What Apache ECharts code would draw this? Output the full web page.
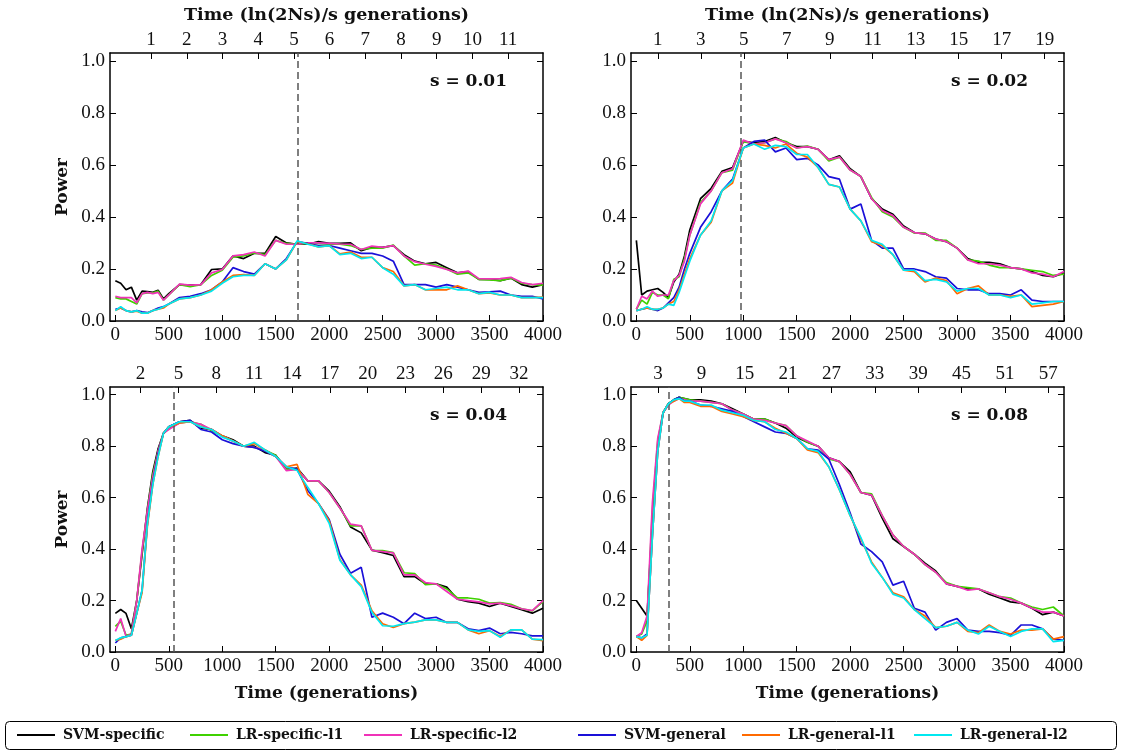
<!DOCTYPE html>
<html>
<head>
<meta charset="utf-8">
<script src="https://cdn.jsdelivr.net/npm/echarts@6/dist/echarts.min.js"></script>
<style>html,body{margin:0;padding:0;background:#fff}#c{width:1122px;height:751px}</style>
</head>
<body>
<div id="c"></div>
<script>
// ---------------- DATA ----------------
const gens = [0,50,100,150,200,250,300,350,400,450,500,600,700,800,900,1000,1100,1200,1300,1400,1500,1600,1700,1800,1900,2000,2100,2200,2300,2400,2500,2600,2700,2800,2900,3000,3100,3200,3300,3400,3500,3600,3700,3800,3900,4000];
const seriesNames = ["SVM-specific","LR-specific-l1","LR-specific-l2","SVM-general","LR-general-l1","LR-general-l2"];
const panelLabels = ["s = 0.01","s = 0.02","s = 0.04","s = 0.08"];
const bottomTicks = [0,500,1000,1500,2000,2500,3000,3500,4000];
const yTicks = [0,0.2,0.4,0.6,0.8,1.0];
// top-axis unit ln(2Ns)/s in generations, and the labelled multiples
const topUnit = [334, 201, 118, 67.6];
const topTickLabels = [
  [1,2,3,4,5,6,7,8,9,10,11],
  [1,3,5,7,9,11,13,15,17,19],
  [2,5,8,11,14,17,20,23,26,29,32],
  [3,9,15,21,27,33,39,45,51,57]
];
const dashedAt = [1710, 980, 545, 300];

// s = 0.01
const p1_svmSpec = [0.155,0.145,0.12,0.13,0.08,0.115,0.113,0.11,0.118,0.085,0.105, 0.14,0.138,0.14,0.198,0.2, 0.25,0.24,0.26,0.26,0.325, 0.3,0.295,0.295,0.305,0.298, 0.298,0.3,0.27,0.283,0.283, 0.29,0.255,0.23,0.22,0.225, 0.205,0.185,0.19,0.16,0.16, 0.155,0.165,0.14,0.13,0.14];
const p1_lrSpecL1 = [0.09,0.085,0.085,0.075,0.065,0.105,0.108,0.108,0.115,0.08,0.1, 0.14,0.132,0.14,0.175,0.195, 0.245,0.25,0.262,0.255,0.31, 0.298,0.295,0.298,0.298,0.295, 0.295,0.29,0.275,0.28,0.28, 0.292,0.25,0.215,0.22,0.215, 0.2,0.18,0.185,0.16,0.158, 0.155,0.165,0.145,0.14,0.138];
const p1_lrSpecL2 = [0.095,0.09,0.09,0.09,0.07,0.105,0.11,0.105,0.11,0.08,0.1, 0.142,0.138,0.14,0.185,0.198, 0.25,0.255,0.265,0.25,0.31, 0.295,0.295,0.3,0.3,0.298, 0.296,0.295,0.275,0.288,0.283, 0.29,0.25,0.228,0.218,0.21, 0.198,0.185,0.192,0.163,0.162, 0.163,0.168,0.148,0.14,0.145];
const p1_svmGen = [0.045,0.05,0.04,0.035,0.04,0.035,0.032,0.04,0.05,0.055,0.065, 0.09,0.095,0.105,0.12,0.15, 0.205,0.19,0.18,0.22,0.2, 0.24,0.305,0.298,0.29,0.29, 0.28,0.27,0.26,0.26,0.25, 0.23,0.14,0.14,0.14,0.13, 0.14,0.13,0.12,0.11,0.112, 0.115,0.1,0.095,0.095,0.085];
const p1_lrGenL1 = [0.04,0.05,0.04,0.035,0.038,0.03,0.03,0.04,0.045,0.05,0.065, 0.085,0.09,0.1,0.12,0.15, 0.175,0.178,0.175,0.22,0.2, 0.235,0.305,0.297,0.285,0.29, 0.258,0.265,0.245,0.245,0.205, 0.19,0.135,0.14,0.12,0.12, 0.12,0.135,0.12,0.105,0.108, 0.1,0.1,0.09,0.09,0.092];
const p1_lrGenL2 = [0.04,0.055,0.04,0.035,0.04,0.03,0.03,0.04,0.045,0.055,0.065, 0.085,0.09,0.1,0.115,0.145, 0.17,0.175,0.175,0.22,0.2, 0.235,0.308,0.295,0.285,0.29, 0.255,0.26,0.24,0.245,0.205, 0.18,0.135,0.14,0.12,0.125, 0.13,0.12,0.12,0.105,0.11, 0.1,0.1,0.09,0.09,0.09];

// s = 0.02
const p2_svmSpec = [0.31,0.1,0.115,0.12,0.125,0.11,0.09,0.15,0.18,0.25,0.35, 0.47,0.51,0.575,0.59,0.69, 0.685,0.69,0.705,0.685,0.67, 0.67,0.66,0.62,0.635,0.585, 0.555,0.47,0.43,0.41,0.365, 0.34,0.335,0.315,0.305,0.28, 0.24,0.225,0.225,0.22,0.205, 0.2,0.19,0.175,0.17,0.185];
const p2_lrSpecL1 = [0.045,0.08,0.065,0.11,0.1,0.1,0.085,0.16,0.17,0.24,0.33, 0.455,0.5,0.57,0.58,0.69, 0.68,0.685,0.7,0.69,0.665, 0.672,0.66,0.615,0.63,0.58, 0.555,0.475,0.42,0.4,0.36, 0.338,0.338,0.31,0.31,0.28, 0.235,0.23,0.215,0.205,0.205, 0.2,0.195,0.19,0.175,0.18];
const p2_lrSpecL2 = [0.045,0.095,0.085,0.115,0.095,0.1,0.1,0.155,0.175,0.23,0.33, 0.45,0.5,0.57,0.585,0.695, 0.68,0.685,0.7,0.685,0.665, 0.67,0.66,0.62,0.63,0.58, 0.555,0.47,0.425,0.405,0.36, 0.34,0.335,0.315,0.305,0.28, 0.235,0.22,0.22,0.215,0.205, 0.2,0.185,0.18,0.17,0.19];
const p2_svmGen = [0.04,0.045,0.05,0.045,0.04,0.05,0.07,0.09,0.13,0.2,0.26, 0.36,0.42,0.5,0.545,0.665, 0.69,0.695,0.65,0.665,0.62, 0.625,0.6,0.555,0.545,0.43, 0.45,0.31,0.28,0.28,0.2, 0.2,0.19,0.17,0.165,0.125, 0.12,0.12,0.105,0.105,0.1, 0.12,0.08,0.075,0.075,0.075];
const p2_lrGenL1 = [0.04,0.045,0.05,0.045,0.045,0.05,0.065,0.075,0.12,0.18,0.24, 0.33,0.38,0.5,0.53,0.665, 0.68,0.675,0.665,0.68,0.645, 0.63,0.59,0.525,0.515,0.43, 0.385,0.305,0.29,0.255,0.195, 0.19,0.15,0.165,0.155,0.105, 0.125,0.135,0.1,0.1,0.095, 0.1,0.055,0.06,0.065,0.075];
const p2_lrGenL2 = [0.04,0.045,0.055,0.045,0.045,0.05,0.065,0.06,0.11,0.17,0.23, 0.33,0.385,0.5,0.54,0.665, 0.68,0.66,0.675,0.67,0.64, 0.64,0.59,0.525,0.515,0.43, 0.385,0.31,0.295,0.255,0.195, 0.195,0.155,0.16,0.15,0.115, 0.125,0.125,0.1,0.1,0.09, 0.1,0.065,0.07,0.075,0.075];

// s = 0.04
const p3_svmSpec = [0.15,0.165,0.15,0.09,0.2,0.38,0.56,0.7,0.79,0.85,0.875, 0.895,0.9,0.87,0.865,0.84, 0.825,0.8,0.8,0.775,0.765, 0.71,0.715,0.665,0.665,0.625, 0.565,0.486,0.463,0.396,0.386, 0.375,0.293,0.293,0.265,0.265, 0.252,0.205,0.196,0.19,0.177, 0.19,0.177,0.164,0.151,0.17];
const p3_lrSpecL1 = [0.1,0.12,0.065,0.07,0.2,0.39,0.55,0.69,0.78,0.85,0.87, 0.89,0.895,0.885,0.86,0.84, 0.82,0.8,0.795,0.785,0.765, 0.71,0.71,0.665,0.665,0.62, 0.56,0.49,0.49,0.395,0.394, 0.386,0.308,0.305,0.262,0.265, 0.245,0.21,0.21,0.205,0.19, 0.192,0.185,0.168,0.16,0.196];
const p3_lrSpecL2 = [0.08,0.13,0.06,0.07,0.2,0.4,0.55,0.68,0.78,0.85,0.865, 0.89,0.895,0.885,0.865,0.84, 0.82,0.8,0.795,0.785,0.76, 0.705,0.71,0.665,0.665,0.62, 0.56,0.497,0.49,0.395,0.39, 0.385,0.3,0.3,0.27,0.265, 0.235,0.205,0.2,0.195,0.187, 0.19,0.18,0.168,0.161,0.2];
const p3_svmGen = [0.035,0.055,0.06,0.065,0.15,0.24,0.5,0.66,0.77,0.85,0.875, 0.895,0.9,0.865,0.855,0.825, 0.81,0.8,0.795,0.78,0.76, 0.72,0.71,0.628,0.577,0.515, 0.38,0.306,0.329,0.135,0.151, 0.135,0.11,0.151,0.13,0.135, 0.115,0.115,0.09,0.083,0.093, 0.071,0.076,0.071,0.063,0.063];
const p3_lrGenL1 = [0.045,0.05,0.06,0.065,0.15,0.23,0.49,0.65,0.76,0.85,0.875, 0.89,0.895,0.875,0.865,0.84, 0.82,0.8,0.81,0.785,0.76, 0.72,0.729,0.613,0.577,0.51, 0.36,0.3,0.26,0.16,0.11, 0.095,0.11,0.116,0.125,0.125, 0.115,0.115,0.086,0.071,0.083, 0.06,0.086,0.086,0.05,0.044];
const p3_lrGenL2 = [0.045,0.055,0.06,0.065,0.15,0.24,0.5,0.65,0.76,0.85,0.875, 0.895,0.895,0.875,0.865,0.835, 0.82,0.8,0.815,0.785,0.76, 0.72,0.706,0.64,0.577,0.5, 0.357,0.3,0.254,0.154,0.102, 0.1,0.11,0.116,0.125,0.125, 0.115,0.115,0.086,0.08,0.083, 0.057,0.086,0.086,0.05,0.048];

// s = 0.08
const p4_svmSpec = [0.2,0.17,0.14,0.5,0.8,0.93,0.965,0.98,0.99,0.985,0.98, 0.98,0.975,0.965,0.945,0.925, 0.905,0.905,0.89,0.87,0.835, 0.815,0.8,0.755,0.74,0.7, 0.62,0.61,0.52,0.44,0.41, 0.38,0.345,0.315,0.265,0.255, 0.245,0.245,0.225,0.21,0.195, 0.19,0.17,0.145,0.155,0.14];
const p4_lrSpecL1 = [0.06,0.07,0.12,0.55,0.82,0.93,0.965,0.98,0.99,0.985,0.98, 0.975,0.97,0.965,0.94,0.925, 0.905,0.905,0.89,0.88,0.84, 0.815,0.8,0.75,0.74,0.69, 0.62,0.615,0.53,0.455,0.41, 0.38,0.34,0.31,0.27,0.255, 0.25,0.245,0.23,0.215,0.21, 0.19,0.175,0.165,0.175,0.14];
const p4_lrSpecL2 = [0.06,0.075,0.14,0.58,0.83,0.93,0.96,0.975,0.985,0.98,0.975, 0.975,0.97,0.965,0.94,0.925, 0.905,0.9,0.89,0.88,0.84, 0.82,0.8,0.755,0.74,0.69, 0.62,0.61,0.53,0.455,0.41, 0.38,0.34,0.31,0.265,0.255, 0.24,0.245,0.23,0.215,0.205, 0.19,0.17,0.155,0.155,0.14];
const p4_svmGen = [0.06,0.055,0.07,0.45,0.78,0.93,0.965,0.98,0.99,0.975,0.975, 0.96,0.955,0.945,0.935,0.915, 0.895,0.875,0.855,0.85,0.83, 0.79,0.785,0.75,0.65,0.54, 0.42,0.39,0.35,0.26,0.275, 0.17,0.155,0.085,0.115,0.13, 0.085,0.08,0.08,0.075,0.065, 0.105,0.105,0.09,0.05,0.045];
const p4_lrGenL1 = [0.06,0.045,0.065,0.45,0.78,0.93,0.965,0.975,0.985,0.97,0.97, 0.955,0.955,0.935,0.925,0.915, 0.9,0.895,0.87,0.85,0.83, 0.785,0.775,0.72,0.63,0.53, 0.44,0.35,0.29,0.23,0.215, 0.165,0.14,0.095,0.1,0.115, 0.08,0.075,0.105,0.08,0.07, 0.085,0.085,0.09,0.05,0.06];
const p4_lrGenL2 = [0.06,0.055,0.065,0.45,0.78,0.93,0.965,0.98,0.985,0.975,0.975, 0.96,0.96,0.94,0.93,0.92, 0.9,0.895,0.865,0.855,0.83, 0.79,0.78,0.72,0.63,0.53, 0.445,0.345,0.29,0.225,0.21, 0.165,0.13,0.095,0.1,0.115, 0.085,0.07,0.1,0.08,0.06, 0.08,0.09,0.09,0.04,0.045];

const panelData = [
  [p1_svmSpec,p1_lrSpecL1,p1_lrSpecL2,p1_svmGen,p1_lrGenL1,p1_lrGenL2],
  [p2_svmSpec,p2_lrSpecL1,p2_lrSpecL2,p2_svmGen,p2_lrGenL1,p2_lrGenL2],
  [p3_svmSpec,p3_lrSpecL1,p3_lrSpecL2,p3_svmGen,p3_lrGenL1,p3_lrGenL2],
  [p4_svmSpec,p4_lrSpecL1,p4_lrSpecL2,p4_svmGen,p4_lrGenL1,p4_lrGenL2]
];

// ---------------- STYLE / LAYOUT ----------------
const colors = ["#000000","#3fd100","#f032b8","#1a10d8","#ff6a00","#00e8f0"];
const NUM = "Liberation Serif";
const BOLD = "DejaVu Serif";
const grids = [
  {left:110, top:53, width:433, height:268},
  {left:631, top:53, width:433, height:268},
  {left:110, top:387, width:433, height:265},
  {left:631, top:387, width:433, height:265}
];

const xAxes = [], yAxes = [], series = [], graphics = [];
grids.forEach((g, p) => {
  const isTop = p < 2, isLeft = p % 2 === 0;
  xAxes.push({
    type:'value', gridIndex:p, position:'bottom', min:-50, max:4000,
    axisLine:{show:true, onZero:false, lineStyle:{color:'#000', width:1.5}},
    axisTick:{show:true, inside:true, length:6, customValues:bottomTicks, lineStyle:{color:'#000', width:1}},
    axisLabel:{show:true, customValues:bottomTicks, color:'#111', fontFamily:NUM, fontSize:19, margin:5,
      formatter:(v)=>String(v)},
    splitLine:{show:false},
    name: isTop ? '' : 'Time (generations)', nameLocation:'middle', nameGap:33,
    nameTextStyle:{fontFamily:BOLD, fontWeight:'bold', fontSize:17, color:'#111'}
  });
  const tv = topTickLabels[p].map(k => k * topUnit[p]);
  xAxes.push({
    type:'value', gridIndex:p, position:'top', min:-50, max:4000,
    axisLine:{show:true, onZero:false, lineStyle:{color:'#000', width:1.5}},
    axisTick:{show:true, inside:true, length:6, customValues:tv, lineStyle:{color:'#000', width:1}},
    axisLabel:{show:true, customValues:tv, color:'#111', fontFamily:NUM, fontSize:19, margin:3,
      formatter:(v)=>String(Math.round(v/topUnit[p]))},
    splitLine:{show:false},
    name: isTop ? 'Time (ln(2Ns)/s generations)' : '', nameLocation:'middle', nameGap:29,
    nameTextStyle:{fontFamily:BOLD, fontWeight:'bold', fontSize:17.5, color:'#111'}
  });
  yAxes.push({
    type:'value', gridIndex:p, position:'left', min:0, max:1.03,
    axisLine:{show:true, onZero:false, lineStyle:{color:'#000', width:1.5}},
    axisTick:{show:true, inside:true, length:6, customValues:yTicks, lineStyle:{color:'#000', width:1}},
    axisLabel:{show:true, customValues:yTicks, color:'#111', fontFamily:NUM, fontSize:19, margin:5,
      formatter:(v)=>v.toFixed(1)},
    splitLine:{show:false},
    name: isLeft ? 'Power' : '', nameLocation:'middle', nameGap:39, nameRotate:90,
    nameTextStyle:{fontFamily:BOLD, fontWeight:'bold', fontSize:17, color:'#111'}
  });
  yAxes.push({
    type:'value', gridIndex:p, position:'right', min:0, max:1.03,
    axisLine:{show:true, onZero:false, lineStyle:{color:'#000', width:1.5}},
    axisTick:{show:true, inside:true, length:6, customValues:yTicks, lineStyle:{color:'#000', width:1}},
    axisLabel:{show:false},
    splitLine:{show:false}
  });
  panelData[p].forEach((arr, si) => {
    const s = {
      type:'line', name:seriesNames[si], xAxisIndex:2*p, yAxisIndex:2*p,
      data: gens.map((x, i) => [x, arr[i]]),
      symbol:'none', showSymbol:false, animation:false, silent:true,
      lineStyle:{color:colors[si], width:1.7}, itemStyle:{color:colors[si]}, z:2+si
    };
    if (si === 0) {
      s.markLine = {
        silent:true, symbol:'none', animation:false,
        label:{show:false},
        lineStyle:{color:'#555', width:1.5, type:[7,4]},
        data:[{xAxis:dashedAt[p]}]
      };
    }
    series.push(s);
  });
  graphics.push({
    type:'text', right: 1122 - (g.left + g.width) + 36, top: g.top + 20,
    style:{text:panelLabels[p], font:'bold 17px "DejaVu Serif"', fill:'#111'}
  });
});

graphics.push({
  type:'rect', shape:{x:5.5, y:721.5, width:1111, height:28, r:4},
  style:{fill:'#fff', stroke:'#000', lineWidth:1}, z:-1
});

const legendLeft = [17, 190, 364, 578, 742, 914];
const legends = seriesNames.map((n, i) => ({
  data:[n], left:legendLeft[i], top:728, itemWidth:38, itemHeight:14, padding:0,
  icon:'path://M0,0L38,0L38,2L0,2Z',
  itemStyle:{color:colors[i]},
  textStyle:{fontFamily:BOLD, fontWeight:'bold', fontSize:14, color:'#111', padding:[0,0,0,3]},
  selectedMode:false
}));

const chart = echarts.init(document.getElementById('c'), null, {renderer:'canvas'});
chart.setOption({
  animation:false,
  backgroundColor:'#fff',
  grid: grids,
  xAxis: xAxes,
  yAxis: yAxes,
  series: series,
  legend: legends,
  graphic: graphics
});
</script>
</body>
</html>
